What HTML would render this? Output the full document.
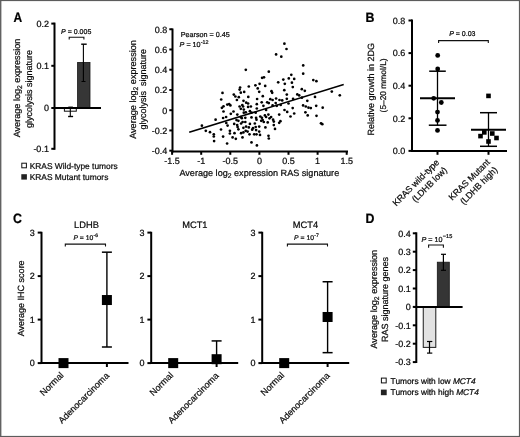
<!DOCTYPE html>
<html><head><meta charset="utf-8"><style>
html,body{margin:0;padding:0;background:#fff;}
svg{display:block;font-family:"Liberation Sans", sans-serif;will-change:transform;}
text{stroke:#000;stroke-width:0.22px;text-rendering:geometricPrecision;}
</style></head><body>
<svg width="520" height="437" viewBox="0 0 520 437">
<rect x="0" y="0" width="520" height="437" fill="#fff"/>
<rect x="0" y="0" width="1.4" height="437" fill="#626262"/>
<rect x="0" y="0" width="520" height="1.1" fill="#5c5c5c"/>
<rect x="518.9" y="0" width="1.1" height="437" fill="#5c5c5c"/>
<rect x="0" y="435.9" width="520" height="1.1" fill="#5c5c5c"/>
<text transform="translate(13.4,21.9) scale(0.9,1.03)" font-size="13.3" font-weight="bold" fill="#000">A</text>
<line x1="54.50" y1="22.60" x2="54.50" y2="149.80" stroke="#000" stroke-width="2"/>
<line x1="51.30" y1="23.60" x2="54.50" y2="23.60" stroke="#000" stroke-width="2"/>
<text x="48.90" y="26.90" font-size="9" text-anchor="end" fill="#111" >0.2</text>
<line x1="51.30" y1="65.80" x2="54.50" y2="65.80" stroke="#000" stroke-width="2"/>
<text x="48.90" y="69.10" font-size="9" text-anchor="end" fill="#111" >0.1</text>
<line x1="51.30" y1="108.00" x2="54.50" y2="108.00" stroke="#000" stroke-width="2"/>
<text x="48.90" y="111.30" font-size="9" text-anchor="end" fill="#111" >0</text>
<line x1="51.30" y1="148.80" x2="54.50" y2="148.80" stroke="#000" stroke-width="2"/>
<text x="48.90" y="152.10" font-size="9" text-anchor="end" fill="#111" >-0.1</text>
<rect x="64.40" y="108.00" width="11.90" height="3.20" fill="#fdfdfd" stroke="#111" stroke-width="1"/>
<line x1="70.30" y1="108.00" x2="70.30" y2="116.50" stroke="#000" stroke-width="1.1"/>
<line x1="68.10" y1="116.50" x2="73.10" y2="116.50" stroke="#000" stroke-width="1.4"/>
<line x1="68.30" y1="106.70" x2="72.90" y2="106.70" stroke="#555" stroke-width="0.8"/>
<rect x="77.60" y="62.40" width="12.40" height="45.60" fill="#363636" stroke="#151515" stroke-width="0.8"/>
<line x1="83.40" y1="44.20" x2="83.40" y2="81.50" stroke="#000" stroke-width="1.1"/>
<line x1="81.20" y1="44.20" x2="86.70" y2="44.20" stroke="#000" stroke-width="1.4"/>
<line x1="81.50" y1="81.50" x2="85.50" y2="81.50" stroke="#000" stroke-width="1"/>
<line x1="52.00" y1="108.00" x2="101.00" y2="108.00" stroke="#000" stroke-width="1.9"/>
<polyline points="69.2,39.6 69.2,37.2 83.9,37.2 83.9,39.6" fill="none" stroke="#111" stroke-width="1.1"/>
<text x="76.20" y="33.60" font-size="7" text-anchor="middle" fill="#111" ><tspan font-style="italic">P</tspan> = 0.005</text>
<text transform="translate(20,88) rotate(-90)" font-size="9.1" text-anchor="middle" fill="#111">Average log<tspan font-size="6.8" dy="2">2</tspan><tspan dy="-2"> expression</tspan></text>
<text transform="translate(31.5,89) rotate(-90)" font-size="9" text-anchor="middle" fill="#111">glycolysis signature</text>
<rect x="21.80" y="163.20" width="4.60" height="4.60" fill="#fff" stroke="#111" stroke-width="1"/>
<rect x="21.30" y="174.20" width="5.60" height="5.40" fill="#222"/>
<text x="29.70" y="168.70" font-size="8.4" text-anchor="start" fill="#111" >KRAS Wild-type tumors</text>
<text x="29.70" y="180.20" font-size="8.4" text-anchor="start" fill="#111" >KRAS Mutant tumors</text>
<line x1="172.50" y1="28.50" x2="172.50" y2="152.50" stroke="#000" stroke-width="2"/>
<line x1="171.50" y1="151.50" x2="348.00" y2="151.50" stroke="#000" stroke-width="2"/>
<line x1="169.30" y1="29.24" x2="172.50" y2="29.24" stroke="#000" stroke-width="2"/>
<text x="167.20" y="32.54" font-size="9" text-anchor="end" fill="#111" >0.8</text>
<line x1="169.30" y1="49.48" x2="172.50" y2="49.48" stroke="#000" stroke-width="2"/>
<text x="167.20" y="52.78" font-size="9" text-anchor="end" fill="#111" >0.6</text>
<line x1="169.30" y1="69.72" x2="172.50" y2="69.72" stroke="#000" stroke-width="2"/>
<text x="167.20" y="73.02" font-size="9" text-anchor="end" fill="#111" >0.4</text>
<line x1="169.30" y1="89.96" x2="172.50" y2="89.96" stroke="#000" stroke-width="2"/>
<text x="167.20" y="93.26" font-size="9" text-anchor="end" fill="#111" >0.2</text>
<line x1="169.30" y1="110.20" x2="172.50" y2="110.20" stroke="#000" stroke-width="2"/>
<text x="167.20" y="113.50" font-size="9" text-anchor="end" fill="#111" >0</text>
<line x1="169.30" y1="130.44" x2="172.50" y2="130.44" stroke="#000" stroke-width="2"/>
<text x="167.20" y="133.74" font-size="9" text-anchor="end" fill="#111" >-0.2</text>
<line x1="169.30" y1="150.68" x2="172.50" y2="150.68" stroke="#000" stroke-width="2"/>
<text x="167.20" y="153.98" font-size="9" text-anchor="end" fill="#111" >-0.4</text>
<line x1="172.10" y1="151.50" x2="172.10" y2="154.80" stroke="#000" stroke-width="2"/>
<text x="172.10" y="164.30" font-size="9" text-anchor="middle" fill="#111" >-1.5</text>
<line x1="201.20" y1="151.50" x2="201.20" y2="154.80" stroke="#000" stroke-width="2"/>
<text x="201.20" y="164.30" font-size="9" text-anchor="middle" fill="#111" >-1</text>
<line x1="230.30" y1="151.50" x2="230.30" y2="154.80" stroke="#000" stroke-width="2"/>
<text x="230.30" y="164.30" font-size="9" text-anchor="middle" fill="#111" >-0.5</text>
<line x1="259.40" y1="151.50" x2="259.40" y2="154.80" stroke="#000" stroke-width="2"/>
<text x="259.40" y="164.30" font-size="9" text-anchor="middle" fill="#111" >0</text>
<line x1="288.50" y1="151.50" x2="288.50" y2="154.80" stroke="#000" stroke-width="2"/>
<text x="288.50" y="164.30" font-size="9" text-anchor="middle" fill="#111" >0.5</text>
<line x1="317.60" y1="151.50" x2="317.60" y2="154.80" stroke="#000" stroke-width="2"/>
<text x="317.60" y="164.30" font-size="9" text-anchor="middle" fill="#111" >1</text>
<line x1="346.70" y1="151.50" x2="346.70" y2="154.80" stroke="#000" stroke-width="2"/>
<text x="346.70" y="164.30" font-size="9" text-anchor="middle" fill="#111" >1.5</text>
<line x1="189.20" y1="132.30" x2="343.70" y2="84.50" stroke="#000" stroke-width="1.6"/>
<text x="180.80" y="37.10" font-size="7.2" text-anchor="start" fill="#111" >Pearson = 0.45</text>
<text x="179.60" y="46.70" font-size="7.2" text-anchor="start" fill="#111" ><tspan font-style="italic">P</tspan> = 10<tspan font-size="5.4" dy="-3.2" dx="0.2">-12</tspan></text>
<text transform="translate(135.5,89.5) rotate(-90)" font-size="9.1" text-anchor="middle" fill="#111">Average log<tspan font-size="6.8" dy="2">2</tspan><tspan dy="-2"> expression</tspan></text>
<text transform="translate(146,89.2) rotate(-90)" font-size="9" text-anchor="middle" fill="#111" xml:space="preserve">glycolysis  signature</text>
<text x="259.3" y="175.7" font-size="9.1" text-anchor="middle" fill="#111">Average log<tspan font-size="6.8" dy="2">2</tspan><tspan dy="-2"> expression RAS signature</tspan></text>
<circle cx="284.40" cy="43.70" r="1.35" fill="#000"/>
<circle cx="286.50" cy="49.00" r="1.35" fill="#000"/>
<circle cx="276.10" cy="54.40" r="1.35" fill="#000"/>
<circle cx="281.30" cy="56.70" r="1.35" fill="#000"/>
<circle cx="245.80" cy="69.80" r="1.35" fill="#000"/>
<circle cx="268.80" cy="71.70" r="1.35" fill="#000"/>
<circle cx="262.10" cy="77.80" r="1.35" fill="#000"/>
<circle cx="264.00" cy="77.30" r="1.35" fill="#000"/>
<circle cx="288.80" cy="78.40" r="1.35" fill="#000"/>
<circle cx="283.30" cy="79.60" r="1.35" fill="#000"/>
<circle cx="278.20" cy="82.30" r="1.35" fill="#000"/>
<circle cx="284.80" cy="83.80" r="1.35" fill="#000"/>
<circle cx="259.60" cy="83.80" r="1.35" fill="#000"/>
<circle cx="255.40" cy="85.30" r="1.35" fill="#000"/>
<circle cx="248.80" cy="86.50" r="1.35" fill="#000"/>
<circle cx="265.20" cy="85.90" r="1.35" fill="#000"/>
<circle cx="240.10" cy="87.50" r="1.35" fill="#000"/>
<circle cx="257.70" cy="88.40" r="1.35" fill="#000"/>
<circle cx="303.20" cy="65.40" r="1.35" fill="#000"/>
<circle cx="303.20" cy="73.70" r="1.35" fill="#000"/>
<circle cx="291.30" cy="74.80" r="1.35" fill="#000"/>
<circle cx="294.20" cy="78.90" r="1.35" fill="#000"/>
<circle cx="291.90" cy="82.70" r="1.35" fill="#000"/>
<circle cx="313.30" cy="80.10" r="1.35" fill="#000"/>
<circle cx="316.40" cy="81.20" r="1.35" fill="#000"/>
<circle cx="292.80" cy="87.10" r="1.35" fill="#000"/>
<circle cx="222.50" cy="92.90" r="1.35" fill="#000"/>
<circle cx="221.20" cy="99.50" r="1.35" fill="#000"/>
<circle cx="233.80" cy="94.60" r="1.35" fill="#000"/>
<circle cx="235.40" cy="96.50" r="1.35" fill="#000"/>
<circle cx="239.60" cy="89.60" r="1.35" fill="#000"/>
<circle cx="240.80" cy="92.70" r="1.35" fill="#000"/>
<circle cx="244.20" cy="91.90" r="1.35" fill="#000"/>
<circle cx="238.80" cy="97.20" r="1.35" fill="#000"/>
<circle cx="236.90" cy="100.00" r="1.35" fill="#000"/>
<circle cx="243.50" cy="100.80" r="1.35" fill="#000"/>
<circle cx="248.30" cy="96.90" r="1.35" fill="#000"/>
<circle cx="227.30" cy="104.60" r="1.35" fill="#000"/>
<circle cx="229.20" cy="104.20" r="1.35" fill="#000"/>
<circle cx="230.40" cy="105.40" r="1.35" fill="#000"/>
<circle cx="221.90" cy="107.80" r="1.35" fill="#000"/>
<circle cx="223.50" cy="106.30" r="1.35" fill="#000"/>
<circle cx="223.50" cy="111.50" r="1.35" fill="#000"/>
<circle cx="230.80" cy="113.80" r="1.35" fill="#000"/>
<circle cx="233.50" cy="111.50" r="1.35" fill="#000"/>
<circle cx="237.30" cy="114.60" r="1.35" fill="#000"/>
<circle cx="239.60" cy="106.50" r="1.35" fill="#000"/>
<circle cx="242.30" cy="105.00" r="1.35" fill="#000"/>
<circle cx="243.10" cy="106.50" r="1.35" fill="#000"/>
<circle cx="240.80" cy="108.80" r="1.35" fill="#000"/>
<circle cx="243.80" cy="109.60" r="1.35" fill="#000"/>
<circle cx="246.20" cy="102.70" r="1.35" fill="#000"/>
<circle cx="248.10" cy="103.50" r="1.35" fill="#000"/>
<circle cx="248.10" cy="106.90" r="1.35" fill="#000"/>
<circle cx="243.80" cy="112.70" r="1.35" fill="#000"/>
<circle cx="245.80" cy="112.30" r="1.35" fill="#000"/>
<circle cx="215.60" cy="119.70" r="1.35" fill="#000"/>
<circle cx="223.10" cy="118.00" r="1.35" fill="#000"/>
<circle cx="201.90" cy="125.70" r="1.35" fill="#000"/>
<circle cx="205.80" cy="130.80" r="1.35" fill="#000"/>
<circle cx="210.00" cy="132.20" r="1.35" fill="#000"/>
<circle cx="213.80" cy="134.30" r="1.35" fill="#000"/>
<circle cx="213.80" cy="136.50" r="1.35" fill="#000"/>
<circle cx="214.10" cy="141.10" r="1.35" fill="#000"/>
<circle cx="221.00" cy="129.50" r="1.35" fill="#000"/>
<circle cx="223.10" cy="136.60" r="1.35" fill="#000"/>
<circle cx="226.10" cy="117.00" r="1.35" fill="#000"/>
<circle cx="240.70" cy="117.00" r="1.35" fill="#000"/>
<circle cx="241.80" cy="118.20" r="1.35" fill="#000"/>
<circle cx="245.30" cy="117.80" r="1.35" fill="#000"/>
<circle cx="251.50" cy="117.40" r="1.35" fill="#000"/>
<circle cx="256.10" cy="117.80" r="1.35" fill="#000"/>
<circle cx="256.50" cy="119.70" r="1.35" fill="#000"/>
<circle cx="236.50" cy="120.10" r="1.35" fill="#000"/>
<circle cx="238.40" cy="120.80" r="1.35" fill="#000"/>
<circle cx="226.30" cy="123.00" r="1.35" fill="#000"/>
<circle cx="227.60" cy="125.60" r="1.35" fill="#000"/>
<circle cx="234.20" cy="123.90" r="1.35" fill="#000"/>
<circle cx="241.10" cy="123.50" r="1.35" fill="#000"/>
<circle cx="242.60" cy="122.00" r="1.35" fill="#000"/>
<circle cx="245.30" cy="122.00" r="1.35" fill="#000"/>
<circle cx="249.90" cy="123.90" r="1.35" fill="#000"/>
<circle cx="254.80" cy="123.50" r="1.35" fill="#000"/>
<circle cx="237.20" cy="125.10" r="1.35" fill="#000"/>
<circle cx="237.60" cy="127.00" r="1.35" fill="#000"/>
<circle cx="238.40" cy="129.30" r="1.35" fill="#000"/>
<circle cx="243.40" cy="127.80" r="1.35" fill="#000"/>
<circle cx="246.10" cy="126.60" r="1.35" fill="#000"/>
<circle cx="248.80" cy="127.40" r="1.35" fill="#000"/>
<circle cx="253.00" cy="128.20" r="1.35" fill="#000"/>
<circle cx="252.20" cy="129.70" r="1.35" fill="#000"/>
<circle cx="255.70" cy="127.00" r="1.35" fill="#000"/>
<circle cx="256.10" cy="130.10" r="1.35" fill="#000"/>
<circle cx="229.90" cy="130.80" r="1.35" fill="#000"/>
<circle cx="229.90" cy="133.50" r="1.35" fill="#000"/>
<circle cx="234.50" cy="133.20" r="1.35" fill="#000"/>
<circle cx="241.10" cy="133.20" r="1.35" fill="#000"/>
<circle cx="243.40" cy="132.40" r="1.35" fill="#000"/>
<circle cx="245.70" cy="130.80" r="1.35" fill="#000"/>
<circle cx="247.60" cy="131.60" r="1.35" fill="#000"/>
<circle cx="249.50" cy="134.30" r="1.35" fill="#000"/>
<circle cx="254.20" cy="134.30" r="1.35" fill="#000"/>
<circle cx="256.50" cy="134.30" r="1.35" fill="#000"/>
<circle cx="232.60" cy="137.40" r="1.35" fill="#000"/>
<circle cx="235.80" cy="138.80" r="1.35" fill="#000"/>
<circle cx="242.50" cy="137.40" r="1.35" fill="#000"/>
<circle cx="227.10" cy="143.50" r="1.35" fill="#000"/>
<circle cx="251.50" cy="142.40" r="1.35" fill="#000"/>
<circle cx="259.20" cy="91.80" r="1.35" fill="#000"/>
<circle cx="271.50" cy="91.20" r="1.35" fill="#000"/>
<circle cx="272.20" cy="92.80" r="1.35" fill="#000"/>
<circle cx="284.30" cy="90.20" r="1.35" fill="#000"/>
<circle cx="286.80" cy="94.60" r="1.35" fill="#000"/>
<circle cx="262.80" cy="96.20" r="1.35" fill="#000"/>
<circle cx="257.10" cy="99.00" r="1.35" fill="#000"/>
<circle cx="270.30" cy="99.20" r="1.35" fill="#000"/>
<circle cx="272.60" cy="100.00" r="1.35" fill="#000"/>
<circle cx="276.10" cy="98.50" r="1.35" fill="#000"/>
<circle cx="279.50" cy="100.00" r="1.35" fill="#000"/>
<circle cx="282.20" cy="100.40" r="1.35" fill="#000"/>
<circle cx="286.80" cy="98.80" r="1.35" fill="#000"/>
<circle cx="261.70" cy="102.30" r="1.35" fill="#000"/>
<circle cx="267.20" cy="102.30" r="1.35" fill="#000"/>
<circle cx="268.80" cy="103.10" r="1.35" fill="#000"/>
<circle cx="275.70" cy="103.10" r="1.35" fill="#000"/>
<circle cx="256.80" cy="104.20" r="1.35" fill="#000"/>
<circle cx="250.90" cy="106.50" r="1.35" fill="#000"/>
<circle cx="263.40" cy="105.80" r="1.35" fill="#000"/>
<circle cx="272.60" cy="105.40" r="1.35" fill="#000"/>
<circle cx="276.80" cy="105.80" r="1.35" fill="#000"/>
<circle cx="280.70" cy="105.00" r="1.35" fill="#000"/>
<circle cx="256.80" cy="108.50" r="1.35" fill="#000"/>
<circle cx="266.10" cy="110.00" r="1.35" fill="#000"/>
<circle cx="284.50" cy="110.00" r="1.35" fill="#000"/>
<circle cx="287.20" cy="111.90" r="1.35" fill="#000"/>
<circle cx="249.90" cy="111.20" r="1.35" fill="#000"/>
<circle cx="251.50" cy="112.70" r="1.35" fill="#000"/>
<circle cx="255.70" cy="112.70" r="1.35" fill="#000"/>
<circle cx="279.20" cy="114.60" r="1.35" fill="#000"/>
<circle cx="268.40" cy="114.60" r="1.35" fill="#000"/>
<circle cx="260.30" cy="116.50" r="1.35" fill="#000"/>
<circle cx="264.90" cy="115.40" r="1.35" fill="#000"/>
<circle cx="266.10" cy="117.00" r="1.35" fill="#000"/>
<circle cx="271.10" cy="117.00" r="1.35" fill="#000"/>
<circle cx="290.50" cy="116.50" r="1.35" fill="#000"/>
<circle cx="294.20" cy="113.50" r="1.35" fill="#000"/>
<circle cx="261.90" cy="117.80" r="1.35" fill="#000"/>
<circle cx="269.50" cy="118.30" r="1.35" fill="#000"/>
<circle cx="261.20" cy="120.80" r="1.35" fill="#000"/>
<circle cx="262.70" cy="120.10" r="1.35" fill="#000"/>
<circle cx="263.80" cy="122.00" r="1.35" fill="#000"/>
<circle cx="267.70" cy="122.40" r="1.35" fill="#000"/>
<circle cx="273.10" cy="119.70" r="1.35" fill="#000"/>
<circle cx="273.80" cy="121.60" r="1.35" fill="#000"/>
<circle cx="279.20" cy="122.80" r="1.35" fill="#000"/>
<circle cx="280.40" cy="121.20" r="1.35" fill="#000"/>
<circle cx="259.20" cy="126.60" r="1.35" fill="#000"/>
<circle cx="265.40" cy="127.40" r="1.35" fill="#000"/>
<circle cx="273.80" cy="125.10" r="1.35" fill="#000"/>
<circle cx="275.00" cy="128.90" r="1.35" fill="#000"/>
<circle cx="259.20" cy="131.60" r="1.35" fill="#000"/>
<circle cx="260.00" cy="134.90" r="1.35" fill="#000"/>
<circle cx="268.50" cy="135.80" r="1.35" fill="#000"/>
<circle cx="268.80" cy="138.50" r="1.35" fill="#000"/>
<circle cx="256.90" cy="145.40" r="1.35" fill="#000"/>
<circle cx="301.80" cy="89.20" r="1.35" fill="#000"/>
<circle cx="304.80" cy="90.80" r="1.35" fill="#000"/>
<circle cx="297.30" cy="94.40" r="1.35" fill="#000"/>
<circle cx="299.20" cy="95.40" r="1.35" fill="#000"/>
<circle cx="293.10" cy="98.80" r="1.35" fill="#000"/>
<circle cx="301.90" cy="97.70" r="1.35" fill="#000"/>
<circle cx="315.00" cy="96.90" r="1.35" fill="#000"/>
<circle cx="307.30" cy="100.80" r="1.35" fill="#000"/>
<circle cx="288.50" cy="103.50" r="1.35" fill="#000"/>
<circle cx="303.10" cy="105.40" r="1.35" fill="#000"/>
<circle cx="305.80" cy="106.50" r="1.35" fill="#000"/>
<circle cx="308.50" cy="107.70" r="1.35" fill="#000"/>
<circle cx="310.80" cy="108.10" r="1.35" fill="#000"/>
<circle cx="316.20" cy="105.80" r="1.35" fill="#000"/>
<circle cx="322.70" cy="107.70" r="1.35" fill="#000"/>
<circle cx="292.70" cy="108.10" r="1.35" fill="#000"/>
<circle cx="305.40" cy="112.30" r="1.35" fill="#000"/>
<circle cx="307.70" cy="115.40" r="1.35" fill="#000"/>
<circle cx="316.50" cy="115.80" r="1.35" fill="#000"/>
<circle cx="321.00" cy="123.30" r="1.35" fill="#000"/>
<circle cx="322.30" cy="124.20" r="1.35" fill="#000"/>
<circle cx="331.80" cy="91.60" r="1.35" fill="#000"/>
<circle cx="339.80" cy="95.30" r="1.35" fill="#000"/>
<text transform="translate(365.6,22.2) scale(0.93,1.02)" font-size="13.3" font-weight="bold" fill="#000">B</text>
<line x1="412.00" y1="19.50" x2="412.00" y2="152.00" stroke="#000" stroke-width="2"/>
<line x1="411.00" y1="151.00" x2="507.00" y2="151.00" stroke="#000" stroke-width="2"/>
<line x1="408.50" y1="20.50" x2="412.00" y2="20.50" stroke="#000" stroke-width="2"/>
<text x="405.20" y="23.80" font-size="9" text-anchor="end" fill="#111" >0.8</text>
<line x1="408.50" y1="53.10" x2="412.00" y2="53.10" stroke="#000" stroke-width="2"/>
<text x="405.20" y="56.40" font-size="9" text-anchor="end" fill="#111" >0.6</text>
<line x1="408.50" y1="85.70" x2="412.00" y2="85.70" stroke="#000" stroke-width="2"/>
<text x="405.20" y="89.00" font-size="9" text-anchor="end" fill="#111" >0.4</text>
<line x1="408.50" y1="118.30" x2="412.00" y2="118.30" stroke="#000" stroke-width="2"/>
<text x="405.20" y="121.60" font-size="9" text-anchor="end" fill="#111" >0.2</text>
<line x1="408.50" y1="150.90" x2="412.00" y2="150.90" stroke="#000" stroke-width="2"/>
<text x="405.20" y="154.20" font-size="9" text-anchor="end" fill="#111" >0.0</text>
<line x1="437.50" y1="151.00" x2="437.50" y2="154.80" stroke="#000" stroke-width="2"/>
<line x1="488.50" y1="151.00" x2="488.50" y2="154.80" stroke="#000" stroke-width="2"/>
<circle cx="437.70" cy="55.40" r="2.4" fill="#000"/>
<circle cx="437.70" cy="68.90" r="2.4" fill="#000"/>
<circle cx="433.70" cy="98.30" r="2.4" fill="#000"/>
<circle cx="441.30" cy="102.50" r="2.4" fill="#000"/>
<circle cx="437.50" cy="112.10" r="2.4" fill="#000"/>
<circle cx="437.50" cy="120.40" r="2.4" fill="#000"/>
<circle cx="437.50" cy="130.40" r="2.4" fill="#000"/>
<line x1="437.50" y1="71.20" x2="437.50" y2="125.20" stroke="#000" stroke-width="1.3"/>
<line x1="429.20" y1="71.20" x2="445.80" y2="71.20" stroke="#000" stroke-width="1.5"/>
<line x1="428.80" y1="125.20" x2="446.50" y2="125.20" stroke="#000" stroke-width="1.5"/>
<line x1="420.00" y1="98.30" x2="455.00" y2="98.30" stroke="#000" stroke-width="2"/>
<rect x="486.20" y="93.60" width="4.60" height="4.60" fill="#000"/>
<rect x="478.20" y="133.80" width="4.60" height="4.60" fill="#000"/>
<rect x="482.00" y="130.10" width="4.60" height="4.60" fill="#000"/>
<rect x="490.00" y="131.20" width="4.60" height="4.60" fill="#000"/>
<rect x="494.20" y="135.70" width="4.60" height="4.60" fill="#000"/>
<rect x="486.20" y="139.20" width="4.60" height="4.60" fill="#000"/>
<line x1="488.50" y1="112.70" x2="488.50" y2="146.30" stroke="#000" stroke-width="1.3"/>
<line x1="480.00" y1="112.70" x2="497.00" y2="112.70" stroke="#000" stroke-width="1.5"/>
<line x1="480.00" y1="146.30" x2="497.00" y2="146.30" stroke="#000" stroke-width="1.5"/>
<line x1="471.00" y1="129.70" x2="506.00" y2="129.70" stroke="#000" stroke-width="2"/>
<polyline points="438.6,43 438.6,40.6 488.3,40.6 488.3,43" fill="none" stroke="#111" stroke-width="1.1"/>
<text x="462.30" y="36.40" font-size="7" text-anchor="middle" fill="#111" ><tspan font-style="italic">P</tspan> = 0.03</text>
<text transform="translate(373.5,89.3) rotate(-90)" font-size="9" text-anchor="middle" fill="#111">Relative growth in 2DG</text>
<text transform="translate(385.5,85.4) rotate(-90)" font-size="8.4" text-anchor="middle" fill="#111">(5–20 mmol/L)</text>
<text transform="translate(439.80,162.90) rotate(-45)" font-size="8.9" text-anchor="end" fill="#111">KRAS wild-type</text>
<text transform="translate(447.58,170.68) rotate(-45)" font-size="8.9" text-anchor="end" fill="#111">(LDHB low)</text>
<text transform="translate(490.40,162.70) rotate(-45)" font-size="8.9" text-anchor="end" fill="#111">KRAS Mutant</text>
<text transform="translate(498.18,170.48) rotate(-45)" font-size="8.9" text-anchor="end" fill="#111">(LDHB high)</text>
<text transform="translate(13.1,223.0) scale(0.93,1.02)" font-size="13.3" font-weight="bold" fill="#000">C</text>
<line x1="41.50" y1="231.80" x2="41.50" y2="364.00" stroke="#000" stroke-width="2"/>
<line x1="40.50" y1="363.00" x2="128.50" y2="363.00" stroke="#000" stroke-width="2"/>
<line x1="37.70" y1="363.10" x2="41.50" y2="363.10" stroke="#000" stroke-width="2"/>
<text x="34.70" y="366.40" font-size="9" text-anchor="end" fill="#111" >0</text>
<line x1="37.70" y1="319.60" x2="41.50" y2="319.60" stroke="#000" stroke-width="2"/>
<text x="34.70" y="322.90" font-size="9" text-anchor="end" fill="#111" >1</text>
<line x1="37.70" y1="276.10" x2="41.50" y2="276.10" stroke="#000" stroke-width="2"/>
<text x="34.70" y="279.40" font-size="9" text-anchor="end" fill="#111" >2</text>
<line x1="37.70" y1="232.60" x2="41.50" y2="232.60" stroke="#000" stroke-width="2"/>
<text x="34.70" y="235.90" font-size="9" text-anchor="end" fill="#111" >3</text>
<line x1="63.50" y1="363.00" x2="63.50" y2="367.00" stroke="#000" stroke-width="2"/>
<line x1="106.90" y1="363.00" x2="106.90" y2="367.00" stroke="#000" stroke-width="2"/>
<text x="86.50" y="227.70" font-size="9.3" text-anchor="middle" fill="#111" >LDHB</text>
<text x="85.70" y="239.60" font-size="6.8" text-anchor="middle" fill="#111" ><tspan font-style="italic">P</tspan> = 10<tspan font-size="5" dy="-3" dx="0.3">-6</tspan></text>
<polyline points="65.30,246.5 65.30,244.1 105.50,244.1 105.50,246.5" fill="none" stroke="#111" stroke-width="1.1"/>
<rect x="58.50" y="358.10" width="10.00" height="10.00" fill="#000"/>
<line x1="106.90" y1="252.18" x2="106.90" y2="347.00" stroke="#000" stroke-width="1.4"/>
<line x1="101.90" y1="347.00" x2="111.90" y2="347.00" stroke="#000" stroke-width="1.5"/>
<line x1="101.90" y1="252.18" x2="111.90" y2="252.18" stroke="#000" stroke-width="1.5"/>
<rect x="101.90" y="295.03" width="10.00" height="10.00" fill="#000"/>
<text transform="translate(64.10,375.80) rotate(-45)" font-size="9" text-anchor="end" fill="#111">Normal</text>
<text transform="translate(109.70,376.30) rotate(-45)" font-size="9" text-anchor="end" fill="#111">Adenocarcinoma</text>
<line x1="151.20" y1="231.80" x2="151.20" y2="364.00" stroke="#000" stroke-width="2"/>
<line x1="150.20" y1="363.00" x2="238.20" y2="363.00" stroke="#000" stroke-width="2"/>
<line x1="147.40" y1="363.10" x2="151.20" y2="363.10" stroke="#000" stroke-width="2"/>
<text x="144.40" y="366.40" font-size="9" text-anchor="end" fill="#111" >0</text>
<line x1="147.40" y1="319.60" x2="151.20" y2="319.60" stroke="#000" stroke-width="2"/>
<text x="144.40" y="322.90" font-size="9" text-anchor="end" fill="#111" >1</text>
<line x1="147.40" y1="276.10" x2="151.20" y2="276.10" stroke="#000" stroke-width="2"/>
<text x="144.40" y="279.40" font-size="9" text-anchor="end" fill="#111" >2</text>
<line x1="147.40" y1="232.60" x2="151.20" y2="232.60" stroke="#000" stroke-width="2"/>
<text x="144.40" y="235.90" font-size="9" text-anchor="end" fill="#111" >3</text>
<line x1="173.20" y1="363.00" x2="173.20" y2="367.00" stroke="#000" stroke-width="2"/>
<line x1="216.60" y1="363.00" x2="216.60" y2="367.00" stroke="#000" stroke-width="2"/>
<text x="194.90" y="227.70" font-size="9.3" text-anchor="middle" fill="#111" >MCT1</text>
<rect x="168.20" y="358.10" width="10.00" height="10.00" fill="#000"/>
<line x1="216.60" y1="340.92" x2="216.60" y2="359.19" stroke="#000" stroke-width="1.4"/>
<line x1="211.60" y1="340.92" x2="221.60" y2="340.92" stroke="#000" stroke-width="1.5"/>
<rect x="211.60" y="354.19" width="10.00" height="10.00" fill="#000"/>
<text transform="translate(173.80,375.80) rotate(-45)" font-size="9" text-anchor="end" fill="#111">Normal</text>
<text transform="translate(219.40,376.30) rotate(-45)" font-size="9" text-anchor="end" fill="#111">Adenocarcinoma</text>
<line x1="262.20" y1="231.80" x2="262.20" y2="364.00" stroke="#000" stroke-width="2"/>
<line x1="261.20" y1="363.00" x2="349.20" y2="363.00" stroke="#000" stroke-width="2"/>
<line x1="258.40" y1="363.10" x2="262.20" y2="363.10" stroke="#000" stroke-width="2"/>
<text x="255.40" y="366.40" font-size="9" text-anchor="end" fill="#111" >0</text>
<line x1="258.40" y1="319.60" x2="262.20" y2="319.60" stroke="#000" stroke-width="2"/>
<text x="255.40" y="322.90" font-size="9" text-anchor="end" fill="#111" >1</text>
<line x1="258.40" y1="276.10" x2="262.20" y2="276.10" stroke="#000" stroke-width="2"/>
<text x="255.40" y="279.40" font-size="9" text-anchor="end" fill="#111" >2</text>
<line x1="258.40" y1="232.60" x2="262.20" y2="232.60" stroke="#000" stroke-width="2"/>
<text x="255.40" y="235.90" font-size="9" text-anchor="end" fill="#111" >3</text>
<line x1="284.20" y1="363.00" x2="284.20" y2="367.00" stroke="#000" stroke-width="2"/>
<line x1="327.60" y1="363.00" x2="327.60" y2="367.00" stroke="#000" stroke-width="2"/>
<text x="305.50" y="227.70" font-size="9.3" text-anchor="middle" fill="#111" >MCT4</text>
<text x="306.40" y="239.60" font-size="6.8" text-anchor="middle" fill="#111" ><tspan font-style="italic">P</tspan> = 10<tspan font-size="5" dy="-3" dx="0.3">-7</tspan></text>
<polyline points="287.40,246.5 287.40,244.1 327.50,244.1 327.50,246.5" fill="none" stroke="#111" stroke-width="1.1"/>
<rect x="279.20" y="358.10" width="10.00" height="10.00" fill="#000"/>
<line x1="327.60" y1="281.75" x2="327.60" y2="352.66" stroke="#000" stroke-width="1.4"/>
<line x1="322.60" y1="352.66" x2="332.60" y2="352.66" stroke="#000" stroke-width="1.5"/>
<line x1="322.60" y1="281.75" x2="332.60" y2="281.75" stroke="#000" stroke-width="1.5"/>
<rect x="322.60" y="311.99" width="10.00" height="10.00" fill="#000"/>
<text transform="translate(284.80,375.80) rotate(-45)" font-size="9" text-anchor="end" fill="#111">Normal</text>
<text transform="translate(330.40,376.30) rotate(-45)" font-size="9" text-anchor="end" fill="#111">Adenocarcinoma</text>
<text transform="translate(24,298.3) rotate(-90)" font-size="9" text-anchor="middle" fill="#111">Average IHC score</text>
<text transform="translate(365.4,223.1) scale(0.93,1.02)" font-size="13.3" font-weight="bold" fill="#000">D</text>
<line x1="416.30" y1="232.30" x2="416.30" y2="363.00" stroke="#000" stroke-width="2"/>
<line x1="412.80" y1="233.30" x2="416.30" y2="233.30" stroke="#000" stroke-width="2"/>
<text x="410.70" y="236.60" font-size="9" text-anchor="end" fill="#111" >0.4</text>
<line x1="412.80" y1="251.70" x2="416.30" y2="251.70" stroke="#000" stroke-width="2"/>
<text x="410.70" y="255.00" font-size="9" text-anchor="end" fill="#111" >0.3</text>
<line x1="412.80" y1="270.10" x2="416.30" y2="270.10" stroke="#000" stroke-width="2"/>
<text x="410.70" y="273.40" font-size="9" text-anchor="end" fill="#111" >0.2</text>
<line x1="412.80" y1="288.50" x2="416.30" y2="288.50" stroke="#000" stroke-width="2"/>
<text x="410.70" y="291.80" font-size="9" text-anchor="end" fill="#111" >0.1</text>
<line x1="412.80" y1="306.90" x2="416.30" y2="306.90" stroke="#000" stroke-width="2"/>
<text x="410.70" y="310.20" font-size="9" text-anchor="end" fill="#111" >0</text>
<line x1="412.80" y1="325.30" x2="416.30" y2="325.30" stroke="#000" stroke-width="2"/>
<text x="410.70" y="328.60" font-size="9" text-anchor="end" fill="#111" >-0.1</text>
<line x1="412.80" y1="343.70" x2="416.30" y2="343.70" stroke="#000" stroke-width="2"/>
<text x="410.70" y="347.00" font-size="9" text-anchor="end" fill="#111" >-0.2</text>
<line x1="412.80" y1="362.10" x2="416.30" y2="362.10" stroke="#000" stroke-width="2"/>
<text x="410.70" y="365.40" font-size="9" text-anchor="end" fill="#111" >-0.3</text>
<rect x="423.25" y="306.90" width="12.55" height="40.48" fill="#e2e2e2" stroke="#1a1a1a" stroke-width="1"/>
<line x1="429.50" y1="341.50" x2="429.50" y2="353.10" stroke="#000" stroke-width="1.2"/>
<line x1="427.00" y1="341.50" x2="432.30" y2="341.50" stroke="#000" stroke-width="1.2"/>
<line x1="427.00" y1="353.10" x2="432.30" y2="353.10" stroke="#000" stroke-width="1.2"/>
<rect x="437.30" y="262.19" width="12.00" height="44.71" fill="#353535" stroke="#151515" stroke-width="0.8"/>
<line x1="443.40" y1="254.30" x2="443.40" y2="270.30" stroke="#000" stroke-width="1.2"/>
<line x1="441.00" y1="254.30" x2="446.00" y2="254.30" stroke="#000" stroke-width="1.2"/>
<line x1="441.00" y1="270.30" x2="446.00" y2="270.30" stroke="#000" stroke-width="1.2"/>
<line x1="414.00" y1="306.90" x2="462.60" y2="306.90" stroke="#000" stroke-width="2"/>
<polyline points="428.6,247.7 428.6,245 443.4,245 443.4,247.7" fill="none" stroke="#111" stroke-width="1.1"/>
<text x="436.90" y="241.50" font-size="7.2" text-anchor="middle" fill="#111" ><tspan font-style="italic">P</tspan> = 10<tspan font-size="5.6" dy="-3.2" dx="0.3">−15</tspan></text>
<text transform="translate(377,299.2) rotate(-90)" font-size="9.1" text-anchor="middle" fill="#111">Average log<tspan font-size="6.8" dy="2">2</tspan><tspan dy="-2"> expression</tspan></text>
<text transform="translate(388,299.4) rotate(-90)" font-size="9" text-anchor="middle" fill="#111">RAS signature genes</text>
<rect x="381.40" y="378.10" width="4.80" height="4.80" fill="#fff" stroke="#111" stroke-width="1"/>
<rect x="380.90" y="389.60" width="5.80" height="5.60" fill="#222"/>
<text x="390.60" y="383.60" font-size="8.35" text-anchor="start" fill="#111" >Tumors with low <tspan font-style="italic">MCT4</tspan></text>
<text x="390.60" y="395.10" font-size="8.35" text-anchor="start" fill="#111" >Tumors with high <tspan font-style="italic">MCT4</tspan></text>
</svg>
</body></html>
